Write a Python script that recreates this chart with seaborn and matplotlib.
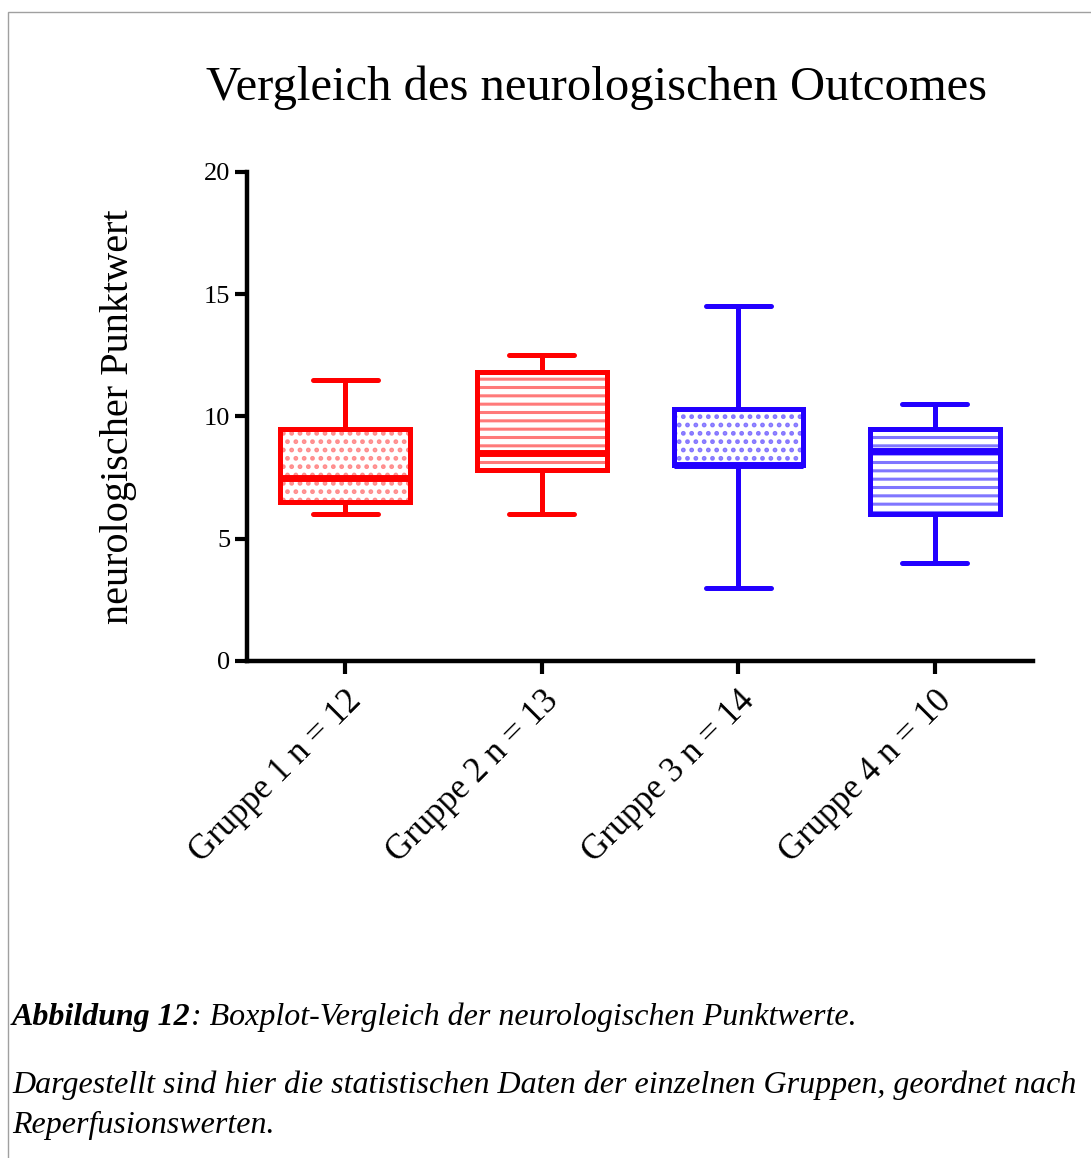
import pandas as pd
import seaborn as sns
import matplotlib.pyplot as plt
from matplotlib.patches import Rectangle, PathPatch

# Five-number summaries (min, Q1, median, Q3, max)
gruppen = ['Gruppe 1 n = 12', 'Gruppe 2 n = 13', 'Gruppe 3 n = 14', 'Gruppe 4 n = 10']
g1 = [6.0, 6.5, 7.5, 9.5, 11.5]
g2 = [6.0, 7.8, 8.5, 11.8, 12.5]
g3 = [3.0, 8.0, 8.0, 10.3, 14.5]
g4 = [4.0, 6.0, 8.6, 9.5, 10.5]
farben = ['#ff0000', '#ff0000', '#2200ff', '#2200ff']
schraffur_farben = ['#ff8c8c', '#ff7a7a', '#8476ff', '#8076ff']
schraffur = ['..', '--', '..', '--']

df = pd.DataFrame({
    'gruppe': [g for g, vals in zip(gruppen, [g1, g2, g3, g4]) for _ in vals],
    'wert': g1 + g2 + g3 + g4,
})

sns.set_style('ticks')
plt.rcParams['font.family'] = ['Liberation Serif', 'DejaVu Serif']
plt.rcParams['text.color'] = 'black'
plt.rcParams['xtick.color'] = 'black'
plt.rcParams['ytick.color'] = 'black'
plt.rcParams['axes.edgecolor'] = 'black'
plt.rcParams['axes.labelcolor'] = 'black'
plt.rcParams['hatch.linewidth'] = 2.2

fig = plt.figure(figsize=(10.91, 11.58), dpi=100)
ax = fig.add_axes([0.2264, 0.4292, 0.7206, 0.4223])

for i, g in enumerate(gruppen):
    sub = df[df['gruppe'] == g]
    n_before = len(ax.patches)
    sns.boxplot(data=sub, x='gruppe', y='wert', order=gruppen, color=farben[i],
                linecolor=farben[i], width=0.66, linewidth=3.6, whis=(0, 100),
                fill=True, medianprops={'linewidth': 5}, ax=ax)
    for p in list(ax.patches[n_before:]):
        p.set_edgecolor(farben[i])
        # lighter hatch drawn on a copy of the box, underneath the outline
        h = PathPatch(p.get_path(), transform=p.get_transform(), facecolor='white',
                      edgecolor=schraffur_farben[i], linewidth=0,
                      hatch=schraffur[i], zorder=p.get_zorder() + 0.01)
        ax.add_patch(h)
        p.set_facecolor('none')
        p.set_zorder(p.get_zorder() + 0.02)

ax.set_ylim(0, 20)
ax.set_yticks([0, 5, 10, 15, 20])
ax.set_xlim(-0.5, 3.5)
sns.despine(ax=ax)
for s in ['left', 'bottom']:
    ax.spines[s].set_linewidth(3.2)
ax.tick_params(axis='both', direction='out', length=9, width=3, color='black')
ax.tick_params(axis='y', labelsize=19, pad=3)
ax.tick_params(axis='x', labelsize=25, pad=8)
plt.setp(ax.get_xticklabels(), rotation=45, ha='right', rotation_mode='anchor')
ax.set_xlabel('')
ax.set_ylabel('neurologischer Punktwert', fontsize=29, labelpad=48)

fig.text(596 / 1091, 1 - 88 / 1158, 'Vergleich des neurologischen Outcomes',
         fontsize=35, ha='center', va='center')

# thin frame around the figure area
fig.patches.append(Rectangle((8 / 1091, -0.1), 1.2, 1 - 12 / 1158 + 0.1,
                             transform=fig.transFigure, fill=False,
                             edgecolor='#a0a0a0', linewidth=1))

# caption
t1 = fig.text(12 / 1091, 1 - 1017 / 1158, 'Abbildung 12', fontsize=23,
              style='italic', weight='bold', va='center')
renderer = fig.canvas.get_renderer()
bb = t1.get_window_extent(renderer)
fig.text(bb.x1 / fig.bbox.width, 1 - 1017 / 1158,
         ': Boxplot-Vergleich der neurologischen Punktwerte.', fontsize=23,
         style='italic', va='center')
fig.text(12 / 1091, 1 - 1085 / 1158,
         'Dargestellt sind hier die statistischen Daten der einzelnen Gruppen, geordnet nach',
         fontsize=23, style='italic', va='center')
fig.text(12 / 1091, 1 - 1125 / 1158, 'Reperfusionswerten.', fontsize=23,
         style='italic', va='center')

fig.savefig('out.png', dpi=100)
